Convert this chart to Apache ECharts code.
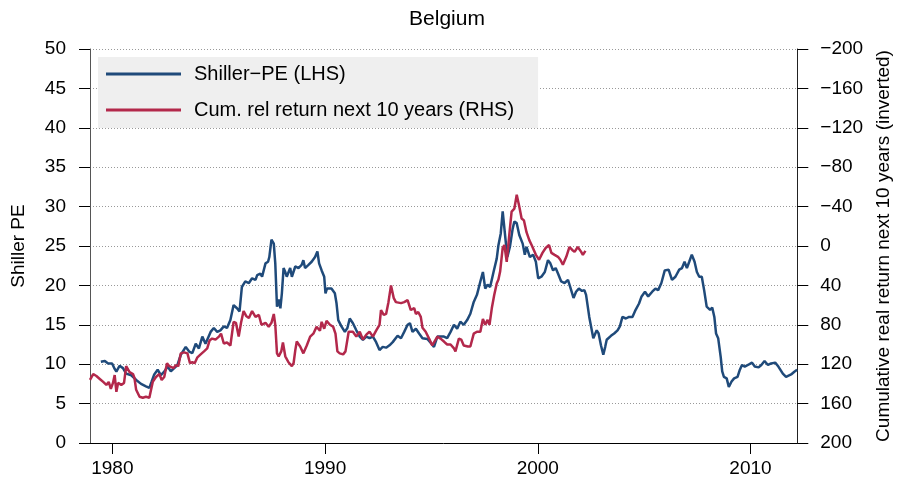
<!DOCTYPE html>
<html>
<head>
<meta charset="utf-8">
<script src="https://cdn.jsdelivr.net/npm/echarts@6/dist/echarts.min.js"></script>
<style>
  html, body { margin: 0; padding: 0; background: #fff; }
  #main { width: 901px; height: 487px; }
</style>
</head>
<body>
<div id="main"></div>
<script>
// Shiller-PE (left axis)
var peYears = [1979.46, 1979.65, 1979.8, 1979.99, 1980.11, 1980.19, 1980.34, 1980.5, 1980.65, 1980.89,
  1981.12, 1981.35, 1981.58, 1981.74, 1981.85, 1981.97, 1982.13, 1982.28, 1982.44, 1982.6,
  1982.75, 1982.91, 1983.06, 1983.22, 1983.45, 1983.61, 1983.76, 1983.92, 1984.07, 1984.23,
  1984.38, 1984.62, 1984.77, 1984.93, 1985.08, 1985.24, 1985.39, 1985.55, 1985.7, 1985.86,
  1985.98, 1986.09, 1986.25, 1986.42, 1986.5, 1986.57, 1986.73, 1986.81, 1986.96, 1987.04,
  1987.2, 1987.32, 1987.38, 1987.48, 1987.59, 1987.66, 1987.74, 1987.82, 1987.9, 1987.97,
  1988.05, 1988.13, 1988.2, 1988.36, 1988.44, 1988.6, 1988.75, 1988.9, 1988.98, 1989.06,
  1989.22, 1989.37, 1989.45, 1989.53, 1989.64, 1989.72, 1989.84, 1989.96, 1990.02, 1990.09,
  1990.15, 1990.3, 1990.46, 1990.54, 1990.62, 1990.77, 1990.93, 1991.05, 1991.16, 1991.31,
  1991.47, 1991.63, 1991.78, 1991.94, 1992.09, 1992.25, 1992.4, 1992.56, 1992.71, 1992.87,
  1993.03, 1993.18, 1993.26, 1993.41, 1993.57, 1993.72, 1993.88, 1993.99, 1994.11, 1994.27,
  1994.42, 1994.58, 1994.81, 1994.97, 1995.12, 1995.28, 1995.59, 1995.74, 1995.9, 1996.06,
  1996.21, 1996.36, 1996.52, 1996.68, 1996.83, 1996.99, 1997.14, 1997.3, 1997.42, 1997.53,
  1997.64, 1997.76, 1997.92, 1998.07, 1998.15, 1998.26, 1998.35, 1998.43, 1998.51, 1998.57,
  1998.69, 1998.82, 1998.9, 1999.01, 1999.13, 1999.29, 1999.39, 1999.47, 1999.63, 1999.78,
  1999.91, 2000.02, 2000.17, 2000.33, 2000.48, 2000.59, 2000.72, 2000.84, 2000.95, 2001.1,
  2001.26, 2001.42, 2001.57, 2001.68, 2001.8, 2001.93, 2002.08, 2002.19, 2002.27, 2002.42,
  2002.5, 2002.61, 2002.77, 2002.86, 2002.97, 2003.08, 2003.17, 2003.24, 2003.44, 2003.59,
  2003.75, 2003.86, 2003.98, 2004.14, 2004.29, 2004.45, 2004.6, 2004.76, 2004.88, 2005.04,
  2005.19, 2005.38, 2005.53, 2005.66, 2005.81, 2005.97, 2006.15, 2006.31, 2006.47, 2006.65,
  2006.78, 2006.9, 2007.01, 2007.12, 2007.24, 2007.37, 2007.48, 2007.59, 2007.71, 2007.82,
  2007.94, 2008.1, 2008.2, 2008.3, 2008.38, 2008.48, 2008.6, 2008.67, 2008.75, 2008.88,
  2008.98, 2009.11, 2009.23, 2009.39, 2009.5, 2009.6, 2009.73, 2009.88, 2010.07, 2010.2,
  2010.38, 2010.51, 2010.66, 2010.82, 2010.97, 2011.16, 2011.31, 2011.52, 2011.67, 2011.91,
  2012.06, 2012.19];
var peValues = [10.3, 10.4, 10.1, 10.1, 9.4, 9.05, 9.8, 9.5, 8.8, 8.6,
  8.0, 7.5, 7.2, 7.0, 7.8, 8.7, 9.3, 8.6, 9.05, 9.7,
  9.1, 9.5, 9.9, 11.2, 12.2, 11.6, 11.4, 12.6, 12.0, 13.5,
  12.6, 14.1, 14.6, 14.1, 14.3, 14.8, 14.6, 15.6, 17.5, 17.1,
  16.7, 19.8, 20.5, 20.3, 20.1, 20.9, 20.7, 21.3, 21.5, 21.1,
  22.8, 23.0, 23.6, 25.8, 25.3, 22.8, 17.3, 18.2, 17.1, 19.0,
  22.2, 21.7, 21.1, 22.2, 21.1, 22.4, 22.2, 22.6, 23.2, 22.2,
  22.6, 23.0, 22.8, 23.6, 24.3, 22.8, 21.9, 21.1, 19.0, 19.6,
  19.4, 19.6, 19.0, 17.7, 15.6, 14.8, 14.1, 14.6, 15.8, 15.2,
  14.3, 13.5, 13.1, 13.5, 13.3, 13.5, 12.8, 11.8, 12.2, 12.1,
  12.4, 12.8, 12.6, 13.6, 13.3, 14.1, 15.0, 15.2, 14.1, 14.5,
  13.9, 13.3, 13.2, 12.7, 12.2, 13.5, 13.5, 13.3, 14.1, 15.0,
  14.5, 15.4, 15.0, 15.6, 16.4, 17.9, 18.8, 20.5, 21.7, 19.6,
  20.1, 19.8, 21.7, 23.4, 25.1, 26.6, 29.4, 29.6, 25.1, 23.6,
  24.9, 27.2, 28.1, 27.9, 26.4, 25.3, 23.9, 24.9, 23.6, 23.9,
  23.0, 20.9, 21.1, 21.7, 23.2, 22.8, 21.9, 22.2, 21.5, 20.5,
  20.3, 20.7, 19.4, 18.4, 19.2, 19.6, 19.3, 19.4, 18.8, 16.0,
  15.8, 13.3, 14.3, 13.9, 12.4, 11.2, 12.2, 13.1, 13.6, 13.9,
  14.3, 14.8, 16.0, 15.8, 16.0, 16.0, 16.9, 17.7, 18.6, 19.2,
  18.6, 19.2, 19.6, 19.4, 20.3, 21.9, 22.0, 20.7, 21.1, 22.0,
  22.2, 23.0, 22.2, 23.0, 23.9, 23.0, 21.7, 21.1, 21.1, 19.4,
  17.3, 16.9, 17.2, 16.0, 13.9, 13.3, 10.9, 9.1, 8.4, 8.2,
  7.1, 7.8, 8.2, 8.4, 9.3, 9.9, 9.7, 9.9, 10.2, 9.7,
  9.6, 9.9, 10.4, 9.9, 10.1, 10.2, 9.7, 8.8, 8.4, 8.7,
  9.05, 9.3];

// Cumulative real return next 10 years (right axis, inverted)
var retYears = [1978.95, 1979.1, 1979.25, 1979.41, 1979.57, 1979.72, 1979.83, 1979.93, 1980.03, 1980.11,
  1980.19, 1980.27, 1980.42, 1980.55, 1980.65, 1980.81, 1980.97, 1981.04, 1981.12, 1981.28,
  1981.43, 1981.58, 1981.74, 1981.82, 1981.9, 1982.05, 1982.21, 1982.32, 1982.44, 1982.57,
  1982.68, 1982.75, 1982.88, 1982.98, 1983.1, 1983.22, 1983.38, 1983.53, 1983.65, 1983.76,
  1983.87, 1984.0, 1984.15, 1984.31, 1984.46, 1984.57, 1984.69, 1984.85, 1985.01, 1985.11,
  1985.24, 1985.39, 1985.55, 1985.7, 1985.81, 1985.94, 1986.05, 1986.17, 1986.29, 1986.42,
  1986.57, 1986.73, 1986.89, 1987.01, 1987.2, 1987.35, 1987.48, 1987.59, 1987.66, 1987.74,
  1987.82, 1987.94, 1988.02, 1988.13, 1988.28, 1988.44, 1988.52, 1988.6, 1988.67, 1988.83,
  1988.98, 1989.14, 1989.3, 1989.45, 1989.6, 1989.76, 1989.84, 1989.96, 1990.07, 1990.23,
  1990.38, 1990.49, 1990.58, 1990.69, 1990.85, 1990.96, 1991.11, 1991.31, 1991.47, 1991.63,
  1991.78, 1991.94, 1992.09, 1992.25, 1992.4, 1992.56, 1992.63, 1992.76, 1992.87, 1992.98,
  1993.1, 1993.23, 1993.33, 1993.41, 1993.57, 1993.72, 1993.88, 1994.03, 1994.19, 1994.27,
  1994.38, 1994.5, 1994.58, 1994.73, 1994.89, 1995.04, 1995.12, 1995.28, 1995.43, 1995.59,
  1995.74, 1995.9, 1996.06, 1996.13, 1996.29, 1996.4, 1996.52, 1996.71, 1996.83, 1996.99,
  1997.14, 1997.3, 1997.42, 1997.53, 1997.64, 1997.73, 1997.84, 1997.95, 1998.07, 1998.15,
  1998.23, 1998.35, 1998.43, 1998.54, 1998.69, 1998.77, 1998.9, 1999.01, 1999.13, 1999.24,
  1999.35, 1999.47, 1999.6, 1999.71, 1999.78, 1999.91, 2000.06, 2000.22, 2000.37, 2000.53,
  2000.64, 2000.79, 2000.95, 2001.06, 2001.18, 2001.34, 2001.49, 2001.62, 2001.73, 2001.88,
  2002.04, 2002.12, 2002.24];
var retValues = [136, 130, 132, 135, 138, 141, 138, 145, 139, 131,
  148, 139, 141, 139, 122, 128, 130, 134, 146, 153,
  154, 153, 154, 146, 138, 133, 130, 136, 133, 119,
  122, 121, 124, 121, 122, 109, 108, 109, 119, 118,
  119, 113, 110, 107, 104, 96, 94, 95, 92, 89,
  99, 98, 101, 77, 78, 92, 78, 66, 71, 73,
  66, 72, 70, 80, 78, 82, 78, 69, 80, 109,
  112, 107, 98, 112, 118, 122, 119, 106, 97, 102,
  109, 101, 92, 89, 82, 86, 77, 84, 76, 80,
  82, 89, 107, 109, 110, 107, 87, 87, 92, 87,
  95, 90, 87, 92, 86, 80, 65, 70, 69, 57,
  40, 53, 57, 55, 58, 57, 55, 65, 63, 69,
  67, 72, 83, 87, 94, 101, 103, 92, 94, 97,
  100, 100, 104, 107, 94, 95, 101, 102, 102, 89,
  87, 87, 74, 80, 75, 80, 63, 50, 38, 34,
  26, 2, -1, 16, -18, -35, -38, -52, -40, -28,
  -26, -14, -6, -1, -2, 9, 14, 7, 2, -1,
  7, 9, 11, 14, 19, 11, 1, 4, 6, 1,
  6, 9, 5];

var yearTicks = [1980, 1990, 2000, 2010];

var FONT = "'Liberation Sans', Arial, Helvetica, sans-serif";
var BLUE = '#1f4a7a';
var RED = '#b3284b';

function pairs(xs, ys) {
    var out = [];
    for (var i = 0; i < xs.length; i++) {
        out.push([xs[i], ys[i]]);
    }
    return out;
}

var myChart = echarts.init(document.getElementById('main'));

var option = {
    animation: false,
    backgroundColor: '#ffffff',
    textStyle: { fontFamily: FONT, color: '#000' },
    title: {
        text: 'Belgium',
        left: 447,
        top: 9,
        textAlign: 'center',
        padding: 0,
        textStyle: { fontFamily: FONT, fontSize: 21, fontWeight: 'normal', color: '#000' }
    },
    legend: {
        orient: 'vertical',
        left: 98,
        top: 57,
        backgroundColor: '#efefef',
        padding: [7, 24, 8, 8],
        itemGap: 16,
        itemWidth: 75,
        itemHeight: 3,
        icon: 'rect',
        textStyle: { fontFamily: FONT, fontSize: 20, color: '#000', padding: [0, 0, 0, 8] },
        data: ['Shiller\u2212PE (LHS)', 'Cum. rel return next 10 years (RHS)']
    },
    grid: {
        left: 90,
        right: 98,
        top: 49,
        bottom: 44,
        containLabel: false
    },
    xAxis: {
        type: 'value',
        min: 1978.95,
        max: 2012.2,
        axisLine: { show: true, lineStyle: { color: '#000', width: 1 } },
        axisTick: { show: true, length: 11, lineStyle: { color: '#000' }, customValues: yearTicks },
        axisLabel: {
            fontFamily: FONT, fontSize: 19, color: '#000', margin: 16, customValues: yearTicks,
            formatter: function (v) { return String(Math.round(v)); }
        },
        splitLine: { show: false }
    },
    yAxis: [{
        type: 'value',
        name: 'Shiller PE',
        nameLocation: 'middle',
        nameGap: 62,
        nameRotate: 90,
        nameTextStyle: { fontFamily: FONT, fontSize: 19, color: '#000' },
        min: 0,
        max: 50,
        interval: 5,
        axisLine: { show: true, lineStyle: { color: '#555', width: 1 } },
        axisTick: { show: true, length: 11, lineStyle: { color: '#000' } },
        axisLabel: { fontFamily: FONT, fontSize: 19, color: '#000', margin: 24 },
        splitLine: { show: true, lineStyle: { color: '#999', type: [1, 2], width: 1 } }
    }, {
        type: 'value',
        position: 'right',
        inverse: true,
        name: 'Cumulative real return next 10 years (inverted)',
        nameLocation: 'middle',
        nameGap: 75,
        nameRotate: 90,
        nameTextStyle: { fontFamily: FONT, fontSize: 19, color: '#000' },
        min: -200,
        max: 200,
        interval: 40,
        axisLine: { show: true, lineStyle: { color: '#222', width: 1 } },
        axisTick: { show: true, length: 11, lineStyle: { color: '#000' } },
        axisLabel: {
            fontFamily: FONT, fontSize: 19, color: '#000', margin: 23,
            formatter: function (v) { return v < 0 ? '\u2212' + Math.abs(v) : String(v); }
        },
        splitLine: { show: false }
    }],
    series: [{
        name: 'Shiller\u2212PE (LHS)',
        type: 'line',
        yAxisIndex: 0,
        symbol: 'none',
        data: pairs(peYears, peValues),
        itemStyle: { color: BLUE },
        lineStyle: { color: BLUE, width: 2.5 }
    }, {
        name: 'Cum. rel return next 10 years (RHS)',
        type: 'line',
        yAxisIndex: 1,
        symbol: 'none',
        data: pairs(retYears, retValues),
        itemStyle: { color: RED },
        lineStyle: { color: RED, width: 2.5 }
    }]
};

myChart.setOption(option);
</script>
</body>
</html>
